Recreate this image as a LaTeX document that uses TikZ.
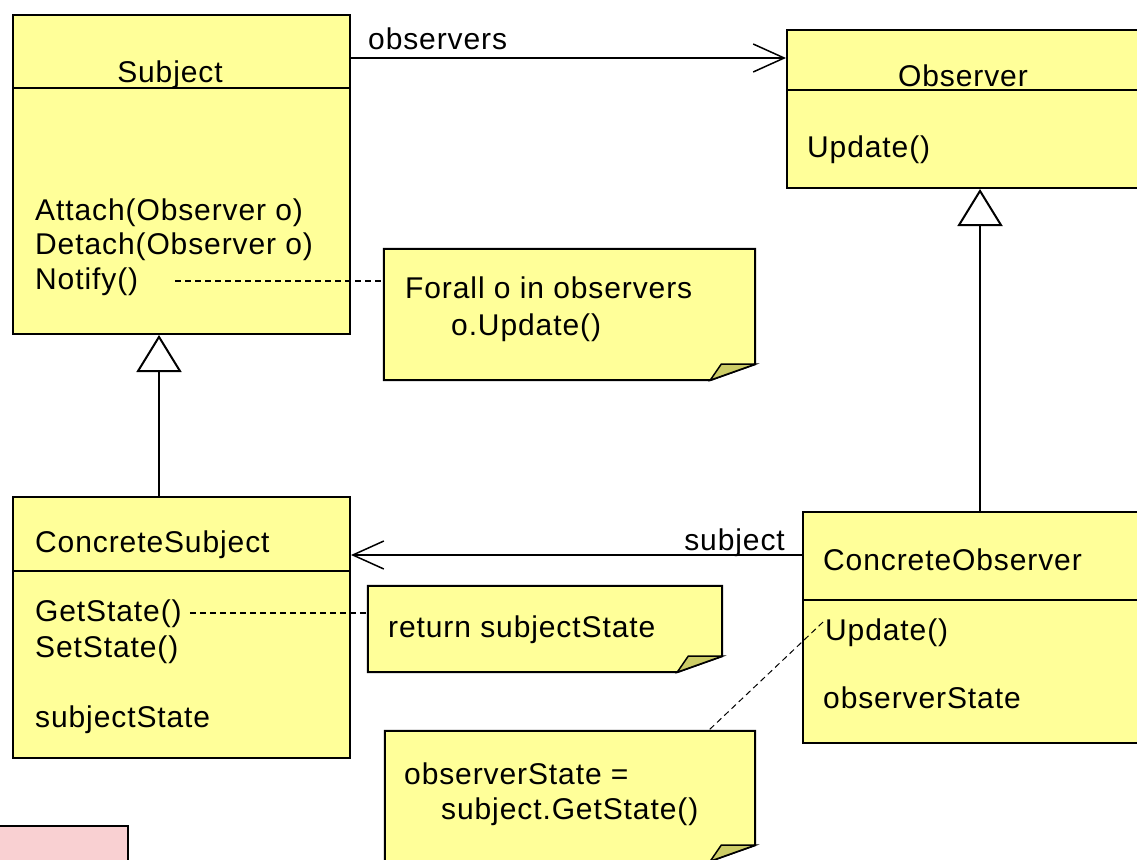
\documentclass[tikz,border=0pt]{standalone}
\usepackage{fontspec}
\setmainfont{Liberation Sans}[LetterSpace=3]
\usepackage{xcolor}
\usetikzlibrary{arrows.meta,calc,fit}
\definecolor{umlyellow}{HTML}{FFFF99}
\definecolor{foldyellow}{HTML}{CCCC66}
\definecolor{notepink}{HTML}{F9D0D2}

% note outline with the folded corner
\newcommand{\dogear}[1]{%
  \filldraw[fill=umlyellow,draw=black,line width=2pt]
    (#1.north west) -- (#1.north east) -- ($(#1.south east)+(0,-16)$)
    -- ($(#1.south east)+(-45,0)$) -- (#1.south west) -- cycle;
  \filldraw[fill=foldyellow,draw=black,line width=1.5pt]
    ($(#1.south east)+(-45,0)$) -- ($(#1.south east)+(-34,-16)$)
    -- ($(#1.south east)+(0,-16)$) -- cycle;
}

\begin{document}
\begin{tikzpicture}[x=1pt,y=-1pt,>=latex]
\tikzstyle{cls}=[rectangle,draw=black,line width=2pt,fill=umlyellow,inner sep=0pt]
\tikzstyle{note}=[rectangle,inner sep=0pt]
\tikzstyle{txt}=[inner sep=0pt,anchor=base west,font=\fontsize{30}{36}\selectfont]
\tikzstyle{gen}=[line width=2pt,-{Triangle[open,fill=white,width=45pt,length=37pt]}]
\tikzstyle{assoc}=[line width=2pt,-{Straight Barb[length=31pt,width=28pt,line width=1.5pt]}]
\tikzstyle{link}=[line width=1.5pt,dash pattern=on 6pt off 4pt]
\useasboundingbox (0,0) rectangle (1137,859);

% classes
\node[cls,fit={(13,15) (350,334)}] (subj) {};
\node[cls,fit={(787,30) (1142,188)}] (obs) {};
\node[cls,fit={(13,497) (350,758)}] (csubj) {};
\node[cls,fit={(803,512) (1142,743)}] (cobs) {};
\draw[line width=2pt] (subj.west |- 0,88) -- (subj.east |- 0,88);
\draw[line width=2pt] (obs.west |- 0,90) -- (obs.east |- 0,90);
\draw[line width=2pt] (csubj.west |- 0,571) -- (csubj.east |- 0,571);
\draw[line width=2pt] (cobs.west |- 0,600) -- (cobs.east |- 0,600);

\node[txt,anchor=base] (subjname) at (170,82) {Subject};
\node[txt] (attach) at (35,220) {Attach(Observer o)};
\node[txt] (detach) at (35,254) {Detach(Observer o)};
\node[txt] (notify) at (35,289) {Notify()};

\node[txt,anchor=base] (obsname) at (963,86) {Observer};
\node[txt] (upd) at (807,157) {Update()};

\node[txt] (csubjname) at (35,552) {ConcreteSubject};
\node[txt] (getst) at (35,621) {GetState()};
\node[txt] (setst) at (35,657) {SetState()};
\node[txt] (subjst) at (35,727) {subjectState};

\node[txt] (cobsname) at (823,570) {ConcreteObserver};
\node[txt] (cupd) at (825,640) {Update()};
\node[txt] (obsst) at (823,708) {observerState};

% notes
\node[note,fit={(384,249) (755,380)}] (n1) {};
\node[note,fit={(368,586) (722,672)}] (n2) {};
\node[note,fit={(385,731) (755,861)}] (n3) {};
\dogear{n1}
\dogear{n2}
\dogear{n3}
\node[txt] (n1a) at (405,298) {Forall o in observers};
\node[txt] (n1b) at (451,335) {o.Update()};
\node[txt] (n2a) at (388,637) {return subjectState};
\node[txt] (n3a) at (404,784) {observerState =};
\node[txt] (n3b) at (441,819) {subject.GetState()};

\node[fill=notepink,draw=black,line width=2pt,inner sep=0pt,fit={(-5,826) (128,870)}] (legend) {};

% associations
\coordinate (obsline) at (0,58);
\coordinate (subjline) at (0,555);
\draw[assoc] (subj.east |- obsline) -- (obs.west |- obsline);
\draw[assoc] (cobs.west |- subjline) -- (csubj.east |- subjline);
\node[txt] (obslbl) at (368,50) {observers};
\node[txt,anchor=base east] (subjlbl) at (785,550) {subject};

% generalizations
\coordinate (genl) at (159,0);
\coordinate (genr) at (980,0);
\draw[gen] (csubj.north -| genl) -- (subj.south -| genl);
\draw[gen] (cobs.north -| genr) -- (obs.south -| genr);

% note links
\draw[link] ([xshift=37pt]notify.east) -- (notify.east -| n1.west);
\draw[link] ([xshift=8pt]getst.east) -- (getst.east -| n2.west);
\draw[link,line width=1pt] ([xshift=-2pt,yshift=-4pt]cupd.north west) -- ([xshift=-47pt]n3.north east);
\end{tikzpicture}
\end{document}
